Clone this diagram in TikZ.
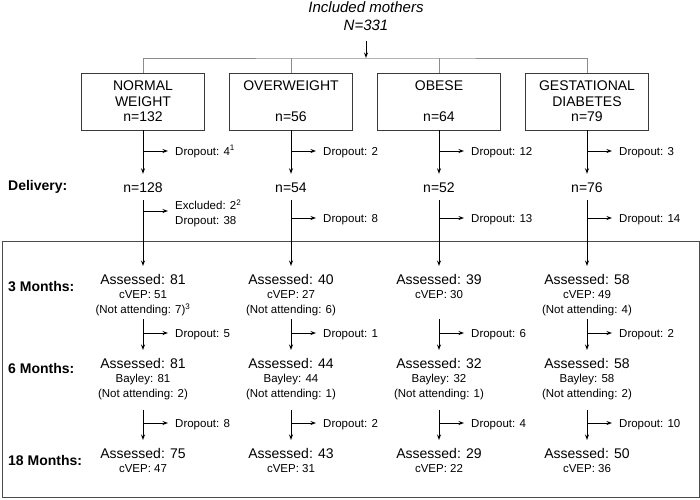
\documentclass[tikz,border=0pt]{standalone}
\usepackage{fontspec}
\setmainfont{Liberation Sans}
\usetikzlibrary{arrows.meta,positioning,calc}

\definecolor{treegray}{HTML}{8C8C8C}
\definecolor{boxgray}{HTML}{3A3A3A}
\newcommand{\assessed}[1]{{\fontsize{14}{16}\selectfont Assessed: #1}}

\tikzset{
  flow/.style={-{Stealth[length=5.5pt,width=4pt]}, line width=1pt},
  tree/.style={draw=treegray, line width=0.9pt},
  frame/.style={draw=black!70, line width=0.9pt},
  grp/.style={draw=boxgray, line width=0.8pt, minimum width=123pt, minimum height=57pt,
    align=center, font=\fontsize{14}{15.5}\selectfont},
  cnt/.style={font=\fontsize{14}{16}\selectfont, text height=10pt, text depth=0pt, inner ysep=8pt},
  drop/.style={anchor=west, font=\fontsize{11.5}{14.5}\selectfont, text height=8.5pt,
    text depth=0.5pt, inner xsep=7pt, inner ysep=2pt},
  res/.style={anchor=north, align=center, font=\fontsize{11.5}{14.5}\selectfont,
    inner xsep=0pt, inner ysep=8pt},
  stage/.style={anchor=west, inner xsep=0pt, font=\bfseries\fontsize{14}{16}\selectfont},
}

\begin{document}
\begin{tikzpicture}[x=1pt,y=-1pt]
    \useasboundingbox (0,0) rectangle (700,499);

    % whole cohort and the four groups
    \node[font=\itshape\fontsize{15}{18.5}\selectfont, align=center, inner sep=0pt] (incl) at (366,16)
        {Included mothers\\N=331};
    \coordinate (split) at (366,58);

    \node[grp] (g1) at (143,101.5) {NORMAL\\WEIGHT\\n=132};
    \node[grp] (g2) at (291,101.5) {OVERWEIGHT\\~\\n=56};
    \node[grp] (g3) at (439,101.5) {OBESE\\~\\n=64};
    \node[grp] (g4) at (587,101.5) {GESTATIONAL\\DIABETES\\n=79};

    \draw[tree] (g1.north) |- (split) -| (g4.north);
    \draw[tree] (g2.north) -- (g2.north |- split);
    \draw[tree] (g3.north) -- (g3.north |- split);
    \draw[flow, shorten <=10.5pt] (incl.south) -- (split);

    % follow-up frame
    \draw[frame] (2,241) rectangle (699,497);

    \node[stage] (lbdel) at (8,187) {Delivery:};
    \node[stage] (lbthr) at (8,286) {3 Months:};
    \node[stage] (lbsix) at (8,368) {6 Months:};
    \node[stage] (lbeig) at (8,460) {18 Months:};

    % delivery
    \foreach \i/\x/\n/\o in {1/143/128/{4\textsuperscript{1}}, 2/291/54/2, 3/439/52/12, 4/587/76/3} {
        \node[cnt] (d\i) at (\x,187) {n=\n};
        \coordinate (p\i) at (\x,151);
        \node[drop] (o\i) at (\x+25,151) {Dropout: \o};
        \draw[flow] (g\i.south) -- (d\i.north);
        \draw[flow] (p\i) -- (o\i.west);
    }

    % 3 months
    \foreach \i/\x/\t in {1/143/{\assessed{81}\\cVEP: 51\\(Not attending: 7)\textsuperscript{3}},
                          2/291/{\assessed{40}\\cVEP: 27\\(Not attending: 6)},
                          3/439/{\assessed{39}\\cVEP: 30},
                          4/587/{\assessed{58}\\cVEP: 49\\(Not attending: 4)}} {
        \node[res] (thr\i) at (\x,266) {\t};
        \draw[flow] (d\i.south) -- (thr\i.north);
    }
    \coordinate (x1) at (143,211);
    \node[anchor=west, align=left, inner xsep=7pt, font=\fontsize{11.5}{15}\selectfont] (ex1) at (168,213.5)
        {Excluded: 2\textsuperscript{2}\\Dropout: 38};
    \draw[flow] (x1) -- ([yshift=2.5pt]ex1.west);
    \foreach \i/\x/\o in {2/291/8, 3/439/13, 4/587/14} {
        \coordinate (x\i) at (\x,218);
        \node[drop] (ex\i) at (\x+25,218) {Dropout: \o};
        \draw[flow] (x\i) -- (ex\i.west);
    }

    % 6 months
    \foreach \i/\x/\t/\o in {1/143/{\assessed{81}\\Bayley: 81\\(Not attending: 2)}/5,
                             2/291/{\assessed{44}\\Bayley: 44\\(Not attending: 1)}/1,
                             3/439/{\assessed{32}\\Bayley: 32\\(Not attending: 1)}/6,
                             4/587/{\assessed{58}\\Bayley: 58\\(Not attending: 2)}/2} {
        \coordinate (s\i) at (\x,319);
        \coordinate (q\i) at (\x,333);
        \node[res] (six\i) at (\x,350) {\t};
        \node[drop] (os\i) at (\x+25,333) {Dropout: \o};
        \draw[flow] (s\i) -- (six\i.north);
        \draw[flow] (q\i) -- (os\i.west);
    }

    % 18 months
    \foreach \i/\x/\t/\o in {1/143/{\assessed{75}\\cVEP: 47}/8,
                             2/291/{\assessed{43}\\cVEP: 31}/2,
                             3/439/{\assessed{29}\\cVEP: 22}/4,
                             4/587/{\assessed{50}\\cVEP: 36}/10} {
        \coordinate (t\i) at (\x,410);
        \coordinate (r\i) at (\x,423);
        \node[res] (eig\i) at (\x,440) {\t};
        \node[drop] (oe\i) at (\x+25,423) {Dropout: \o};
        \draw[flow] (t\i) -- (eig\i.north);
        \draw[flow] (r\i) -- (oe\i.west);
    }
\end{tikzpicture}
\end{document}
